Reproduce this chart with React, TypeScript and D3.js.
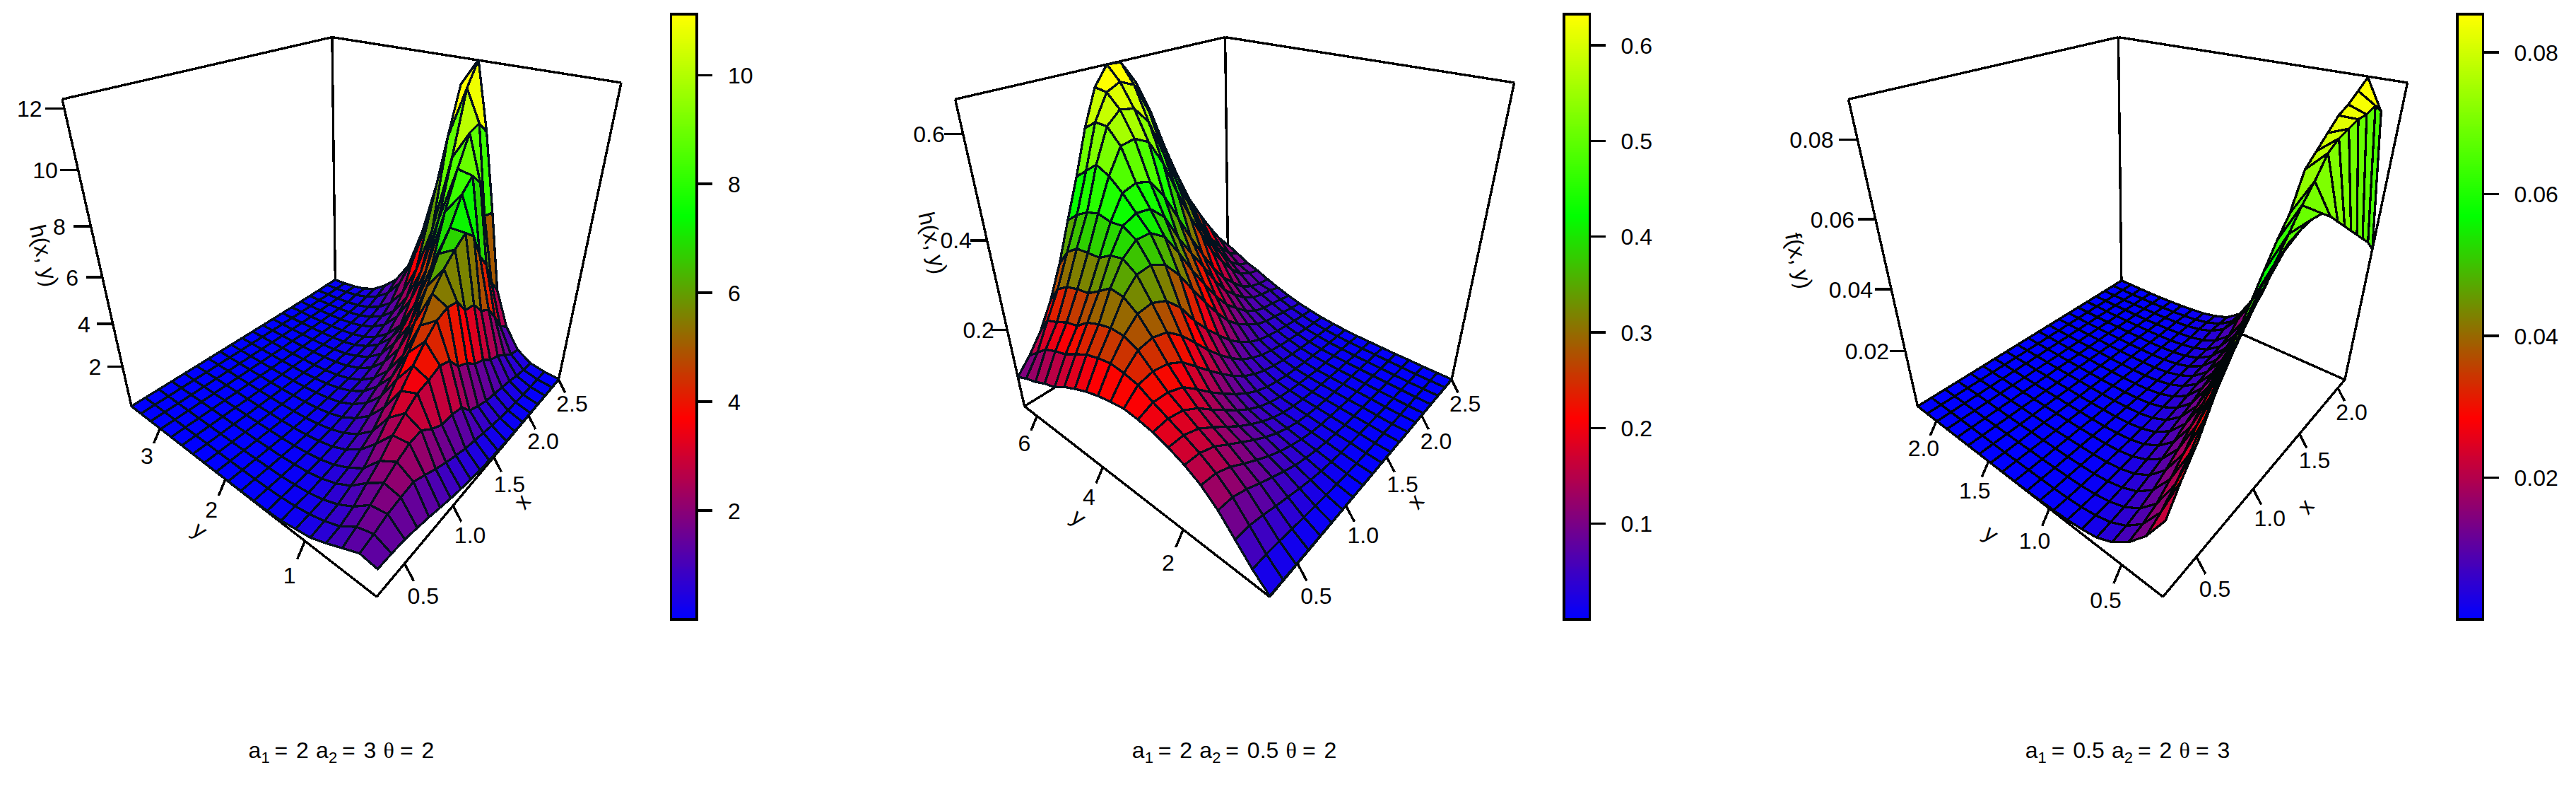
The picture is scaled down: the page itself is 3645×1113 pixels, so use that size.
import React from "react";
import * as d3 from "d3";

const surfaceA: number[][] = [
  [1.27,1.37,1.03,.68,.38,.24,.1,.05,.03,.02,.012,.007,.004,.003,.002,.001,.001,.001,.001,.001],
  [1.25,1.55,1.32,.8,.51,.31,.18,.1,.054,.03,.017,.01,.006,.004,.003,.002,.001,.001,.001,.001],
  [1.2,1.78,1.66,1.08,.67,.4,.23,.135,.07,.04,.022,.012,.007,.004,.003,.002,.001,.001,.001,.001],
  [1.06,1.9,2.05,1.56,.95,.58,.34,.19,.115,.06,.03,.018,.01,.006,.004,.003,.002,.001,.001,.001],
  [.91,2.0,2.4,2.0,1.2,.77,.46,.27,.16,.085,.045,.026,.014,.008,.005,.003,.002,.001,.001,.001],
  [.73,1.73,2.67,2.6,1.8,1.1,.66,.38,.225,.125,.07,.038,.02,.011,.007,.004,.003,.002,.001,.001],
  [.56,1.45,2.73,3.07,2.48,1.46,.9,.54,.325,.186,.1,.054,.03,.016,.009,.005,.003,.002,.001,.001],
  [.42,1.2,2.3,3.46,3.2,2.1,1.3,.79,.45,.26,.145,.08,.043,.024,.013,.008,.005,.003,.002,.001],
  [.3,1.0,2.0,3.6,3.87,2.9,1.77,1.08,.64,.36,.21,.12,.065,.036,.02,.012,.007,.004,.003,.002],
  [.2,.8,2.0,3.8,4.5,3.7,2.27,1.45,.85,.5,.29,.16,.085,.047,.027,.016,.009,.006,.004,.002],
  [.14,.68,1.85,3.6,5,4.5,2.85,1.8,1.1,.63,.37,.2,.11,.06,.034,.02,.012,.007,.004,.003],
  [.09,.55,1.25,2.95,5.2,5.5,4.0,2.45,1.5,.85,.5,.28,.155,.085,.048,.028,.017,.01,.006,.004],
  [.06,.42,1.0,2.7,5.1,6.2,5.2,3.2,2.05,1.18,.68,.4,.22,.12,.068,.04,.024,.014,.009,.006],
  [.04,.32,.8,2.25,4.4,6.7,6.3,4.4,2.65,1.6,.95,.55,.3,.165,.095,.056,.034,.02,.013,.008],
  [.03,.25,.7,2.05,4.3,7.1,7.1,5.25,3.2,1.9,1.15,.67,.38,.215,.125,.075,.045,.027,.017,.011],
  [.025,.2,.6,1.65,3.7,6.7,8.2,7.3,4.5,2.85,1.7,.98,.57,.33,.19,.115,.07,.043,.027,.017],
  [.02,.15,.5,1.45,3.4,5.6,8.7,8.8,6.5,3.9,2.35,1.35,.8,.47,.27,.165,.1,.062,.04,.025],
  [.02,.12,.35,1.1,2.7,4.9,8.2,10,8.9,5.6,3.5,2.05,1.2,.7,.4,.24,.145,.09,.055,.035],
  [.02,.09,.25,.75,1.9,3.8,6.6,10.2,11.4,9.4,5.5,3.4,1.95,1.15,.68,.4,.24,.15,.09,.06],
  [.03,.08,.2,.6,1.5,3.1,6.5,9.7,12.3,11.3,7.4,4.6,2.6,1.6,1,.55,.3,.17,.1,.06],
];

const surfaceBByY: number[][] = [
  [.002,.002,.002,.002,.002,.001,.001,.001,.001,.001,.001,.001,.001,.001,.001,.001,.001,.001,.001,.001],
  [.035,.034,.03,.025,.02,.016,.012,.009,.006,.004,.003,.002,.002,.001,.001,.001,.001,.001,.001,.001],
  [.075,.074,.065,.054,.044,.034,.025,.018,.013,.009,.007,.005,.004,.003,.002,.002,.002,.001,.001,.001],
  [.115,.113,.1,.083,.067,.052,.038,.028,.02,.014,.01,.007,.006,.005,.004,.003,.003,.002,.002,.002],
  [.145,.142,.127,.105,.085,.066,.05,.037,.026,.018,.013,.01,.008,.006,.005,.004,.004,.003,.003,.002],
  [.165,.163,.15,.127,.105,.083,.063,.046,.033,.023,.017,.013,.01,.008,.007,.006,.005,.004,.004,.003],
  [.18,.18,.168,.145,.12,.095,.074,.055,.04,.028,.021,.016,.012,.01,.008,.007,.006,.005,.005,.004],
  [.191,.195,.188,.168,.14,.114,.088,.066,.048,.035,.026,.02,.016,.013,.01,.009,.008,.007,.006,.005],
  [.197,.21,.208,.196,.168,.137,.11,.085,.063,.046,.034,.026,.02,.017,.014,.012,.01,.009,.008,.007],
  [.2,.228,.235,.23,.212,.18,.148,.118,.09,.067,.05,.038,.03,.024,.02,.017,.015,.013,.011,.01],
  [.195,.235,.263,.27,.262,.235,.198,.16,.126,.097,.072,.055,.042,.034,.028,.024,.021,.018,.016,.014],
  [.188,.238,.277,.305,.31,.297,.264,.215,.175,.14,.107,.082,.062,.048,.04,.034,.03,.026,.023,.02],
  [.178,.232,.278,.326,.356,.36,.345,.306,.255,.207,.163,.124,.095,.075,.057,.047,.042,.036,.031,.027],
  [.165,.222,.27,.33,.376,.4,.4,.378,.328,.272,.222,.174,.134,.106,.08,.062,.052,.048,.042,.036],
  [.15,.206,.258,.31,.37,.417,.43,.426,.396,.335,.284,.237,.185,.142,.112,.086,.069,.06,.056,.047],
  [.13,.188,.235,.291,.353,.414,.461,.47,.461,.418,.357,.296,.24,.188,.146,.115,.087,.071,.063,.059],
  [.12,.178,.227,.286,.351,.421,.486,.535,.54,.524,.47,.394,.324,.265,.205,.162,.124,.095,.081,.073],
  [.105,.165,.212,.277,.348,.413,.5,.566,.59,.584,.549,.472,.395,.33,.26,.2,.159,.118,.094,.083],
  [.095,.14,.2,.258,.328,.397,.479,.567,.617,.63,.617,.554,.466,.39,.315,.246,.189,.151,.117,.1],
  [.08,.115,.158,.216,.288,.374,.457,.548,.621,.658,.656,.61,.54,.45,.37,.3,.245,.195,.15,.115],
];
const surfaceB: number[][] = d3.transpose(surfaceBByY);

const surfaceC: number[][] = [
  [.024,.0154,.0094,.0053,.0028,.0017,.001,.0006,.0004,.0002,.0001,.0001,0,0,0,0,0,0,0,0],
  [.031,.018,.0105,.006,.0033,.0018,.001,.0005,.0003,.0002,.0001,.0001,0,0,0,0,0,0,0,0],
  [.037,.022,.0125,.0072,.004,.0022,.0012,.0006,.0004,.0002,.0001,.0001,0,0,0,0,0,0,0,0],
  [.045,.027,.016,.009,.005,.0028,.0015,.0008,.0005,.0003,.0002,.0001,.0001,0,0,0,0,0,0,0],
  [.052,.033,.02,.0115,.0064,.0035,.0019,.001,.0006,.0004,.0002,.0001,.0001,0,0,0,0,0,0,0],
  [.058,.039,.025,.0145,.008,.0045,.0024,.0013,.0007,.0005,.0003,.0002,.0001,.0001,0,0,0,0,0,0],
  [.063,.045,.03,.018,.01,.0056,.003,.0016,.0009,.0005,.0003,.0002,.0001,.0001,0,0,0,0,0,0],
  [.066,.05,.036,.022,.0125,.007,.0037,.002,.0011,.0006,.0004,.0002,.0001,.0001,0,0,0,0,0,0],
  [.0685,.055,.042,.026,.015,.0085,.0045,.0024,.0013,.0008,.0005,.0003,.0002,.0001,.0001,0,0,0,0,0],
  [.0695,.06,.048,.03,.018,.01,.0055,.003,.0016,.0009,.0005,.0003,.0002,.0001,.0001,0,0,0,0,0],
  [.07,.065,.054,.034,.021,.012,.0066,.0036,.002,.0011,.0006,.0004,.0002,.0001,.0001,0,0,0,0,0],
  [.0695,.07,.06,.039,.024,.014,.0078,.0043,.0024,.0013,.0007,.0004,.0002,.0001,.0001,0,0,0,0,0],
  [.067,.074,.065,.044,.027,.016,.009,.005,.0028,.0015,.0008,.0005,.0003,.0002,.0001,.0001,0,0,0,0],
  [.064,.079,.074,.05,.032,.019,.0105,.0058,.0032,.0018,.001,.0006,.0004,.0002,.0001,.0001,0,0,0,0],
  [.061,.081,.077,.054,.036,.022,.012,.0066,.0036,.002,.0012,.0007,.0004,.0003,.0002,.0001,0,0,0,0],
  [.058,.082,.08,.058,.04,.025,.014,.0075,.004,.0023,.0014,.0008,.0005,.0003,.0002,.0001,0,0,0,0],
  [.055,.083,.083,.062,.044,.028,.0165,.0088,.0047,.0027,.0016,.001,.0006,.0004,.0002,.0001,.0001,0,0,0],
  [.052,.083,.0845,.068,.051,.035,.022,.0125,.0066,.0037,.0022,.0013,.0008,.0005,.0003,.0002,.0001,0,0,0],
  [.049,.084,.0867,.071,.054,.038,.0245,.014,.007,.0039,.0024,.0014,.0009,.0005,.0003,.0002,.0001,0,0,0],
  [.045,.0815,.089,.075,.058,.041,.027,.016,.0075,.004,.0025,.0015,.001,.0006,.0004,.0002,.0001,.0001,.0001,.0001],
];

const xTicksA = [0.5, 1, 1.5, 2, 2.5];
const xTicksC = [0.5, 1, 1.5, 2];
const yTicksA = [1, 2, 3];
const yTicksB = [2, 4, 6];
const yTicksC = [0.5, 1, 1.5, 2];
const zTicksA = [2, 4, 6, 8, 10, 12];
const zTicksB = [0.2, 0.4, 0.6];
const zTicksC = [0.02, 0.04, 0.06, 0.08];
const legendTicksA = [2, 4, 6, 8, 10];
const legendTicksB = [0.1, 0.2, 0.3, 0.4, 0.5, 0.6];
const legendTicksC = [0.02, 0.04, 0.06, 0.08];
const rampColors = ["#0000ff", "#ff0000", "#00ff00", "#ffff00"];

const W = 3645, H = 1113;
const FONT = "'Liberation Sans', Arial, sans-serif";
const FS = 32;

// perspective homography fitted to the printed box (unit cube -> page, first panel)
const P = { a: 608.5, b: -276.5, c: -164.4, e: 533, d: -68.5, f: -51.6, k: -645.5, y0: 844, g: 0.4442, h: 0.3792, i: -0.3326 };
const project = (u: number, v: number, t: number): [number, number] => {
  const D = P.g * u + P.h * v + P.i * t + 1;
  return [(P.a * u + P.b * v + P.c * t + P.e) / D, (P.d * u + P.f * v + P.k * t + P.y0) / D];
};

const panels = [
  { dx: 0, z: surfaceA, xd: [0.25, 2.5], yd: [0.25, 3.5], zd: [0, 12.28], max: 11.12, xt: xTicksA, yt: yTicksA, zt: zTicksA, lt: legendTicksA,
    fx: (d: number) => d3.format(".1f")(d), fy: (d: number) => String(d), fz: (d: number) => String(d), fl: (d: number) => String(d),
    zlabel: "h(x, y)", zpos: [61, 362], xpos: [741, 711], ypos: [281, 752], zoff: 1, mesh: "#03111d", title: ["2", "3", "2"] },
  { dx: 1263.6, z: surfaceB, xd: [0.25, 2.5], yd: [0.25, 6.43], zd: [0, 0.658], max: 0.6325, xt: xTicksA, yt: yTicksB, zt: zTicksB, lt: legendTicksB,
    fx: (d: number) => d3.format(".1f")(d), fy: (d: number) => String(d), fz: (d: number) => d3.format(".1f")(d), fl: (d: number) => d3.format(".1f")(d),
    zlabel: "h(x, y)", zpos: [55, 344], xpos: [741.5, 711], ypos: [261, 734], zoff: 1, mesh: "#03111d", title: ["2", "0.5", "2"] },
  { dx: 2527.5, z: surfaceC, xd: [0.25, 2.1], yd: [0.25, 2.2], zd: [0, 0.0892], max: 0.0854, xt: xTicksC, yt: yTicksC, zt: zTicksC, lt: legendTicksC,
    fx: (d: number) => d3.format(".1f")(d), fy: (d: number) => d3.format(".1f")(d), fz: (d: number) => d3.format(".2f")(d), fl: (d: number) => d3.format(".2f")(d),
    zlabel: "f(x, y)", zpos: [16.5, 369], xpos: [737, 718], ypos: [288, 757], zoff: 1.36, mesh: "#010608", title: ["0.5", "2", "3"] },
];

const pathOf = d3.line<[number, number]>();
const BAR = { x0: 949.5, x1: 986, top: 20, bottom: 876 };

function Title({ dx, vals }: { dx: number; vals: string[] }) {
  const widthOf = (s: string) => s.split("").reduce((w, ch) => w + (ch === "." ? 8.9 : 17.8), 0);
  const parts: React.ReactNode[] = [];
  const total = 96 + widthOf(vals[0]) - 17.8 + 96 + widthOf(vals[1]) - 17.8 + 263.8 - 192;
  let x = 483.5 + dx - total / 2;
  const base = 1071.5;
  const txt = (s: string, px: number, py: number, size: number, fam: string = FONT) => (
    <text key={parts.length} x={px} y={py} fontSize={size} fontFamily={fam} fill="#000">{s}</text>
  );
  [1, 2].forEach((n, idx) => {
    parts.push(txt("a", x, base, FS));
    parts.push(txt(String(n), x + 17.8, base + 7, 22));
    parts.push(txt("=", x + 37, base, FS));
    parts.push(txt(vals[idx], x + 67.5, base, FS));
    x += 67.5 + widthOf(vals[idx]) + 10.2;
  });
  parts.push(txt("\u03b8", x, base, FS, "'Liberation Serif', serif"));
  parts.push(txt("=", x + 23.5, base, FS));
  parts.push(txt(vals[2], x + 54, base, FS));
  return <g>{parts}</g>;
}

function Panel({ p }: { p: (typeof panels)[number] }) {
  const us = d3.scaleLinear().domain(p.xd).range([0, 1]);
  const vs = d3.scaleLinear().domain(p.yd).range([0, 1]);
  const ts = d3.scaleLinear().domain(p.zd).range([0, 1]);
  const col = d3.scaleLinear<string>().domain([0, p.max / 3, (2 * p.max) / 3, p.max]).range(rampColors).interpolate(d3.interpolateRgb).clamp(true);
  const ly = d3.scaleLinear().domain([0, p.max]).range([BAR.bottom, BAR.top]);
  const n = p.z.length, m = p.z[0].length;
  const pt = (i: number, j: number) => project(i / (n - 1), j / (m - 1), ts(p.z[i][j]));

  const facets: React.ReactNode[] = [];
  for (let i = n - 2; i >= 0; i--) {
    for (let j = m - 2; j >= 0; j--) {
      const avg = (p.z[i][j] + p.z[i + 1][j] + p.z[i + 1][j + 1] + p.z[i][j + 1]) / 4;
      facets.push(
        <path key={`${i}-${j}`} d={pathOf([pt(i, j), pt(i + 1, j), pt(i + 1, j + 1), pt(i, j + 1)])! + "Z"} fill={col(avg)} stroke={p.mesh} strokeWidth={3.3} strokeLinejoin="round" />
      );
    }
  }

  const F = project(0, 0, 0), R = project(1, 0, 0), L = project(0, 1, 0), B = project(1, 1, 0);
  const RT = project(1, 0, 1), LT = project(0, 1, 1), BT = project(1, 1, 1);
  const box = [[F, R], [F, L], [R, B], [L, B], [L, LT], [LT, BT], [BT, RT], [RT, R], [B, BT]] as [number, number][][];

  const strips = d3.range(0, 300).map((k) => k / 300);
  const seg = (a: [number, number], b: [number, number], key: string) => (
    <line key={key} x1={a[0]} y1={a[1]} x2={b[0]} y2={b[1]} stroke="#000" strokeWidth={3.4} />
  );
  const label = (s: string, q: [number, number], key: string) => (
    <text key={key} x={q[0]} y={q[1]} dy="0.36em" textAnchor="middle" fontFamily={FONT} fontSize={FS} fill="#000">{s}</text>
  );

  return (
    <g>
      <g transform={`translate(${p.dx},0)`} shapeRendering="crispEdges">
        {box.map((e, k) => seg(e[0], e[1], `b${k}`))}
        {facets}
        {p.xt.map((d) => seg(project(us(d), 0, 0), project(us(d), -0.03, -0.04), `xt${d}`))}
        {p.yt.map((d) => seg(project(0, vs(d), 0), project(-0.03, vs(d), -0.04), `yt${d}`))}
        {p.zt.map((d) => seg(project(0, 1, ts(d)), project(-0.03, 1.036, ts(d)), `zt${d}`))}
        {/* legend */}
        {strips.map((k) => (
          <rect key={k} x={BAR.x0} width={BAR.x1 - BAR.x0} y={ly(k * p.max + p.max / 300)} height={ly(k * p.max) - ly(k * p.max + p.max / 300) + 0.6} fill={col(k * p.max + p.max / 600)} />
        ))}
        <rect x={BAR.x0} y={BAR.top} width={BAR.x1 - BAR.x0} height={BAR.bottom - BAR.top} fill="none" stroke="#000" strokeWidth={3.4} />
        {p.lt.map((d) => seg([BAR.x1, ly(d)], [BAR.x1 + 22, ly(d)], `lt${d}`))}
      </g>
      <g transform={`translate(${p.dx},0)`}>
        {p.xt.map((d) => label(p.fx(d), project(us(d), -0.06, -0.07), `xl${d}`))}
        {p.yt.map((d) => label(p.fy(d), project(-0.06, vs(d), -0.07), `yl${d}`))}
        {p.zt.map((d) => label(p.fz(d), project(-0.055 * p.zoff, 1 + 0.066 * p.zoff, ts(d)), `zl${d}`))}
        {p.lt.map((d) => (
          <text key={`ll${d}`} x={BAR.x1 + 44} y={ly(d)} dy="0.36em" fontFamily={FONT} fontSize={FS} fill="#000">{p.fl(d)}</text>
        ))}
        <text transform={`translate(${p.xpos[0]},${p.xpos[1]}) rotate(-52)`} textAnchor="middle" dy="0.25em" fontFamily={FONT} fontSize={FS} fill="#000">x</text>
        <text transform={`translate(${p.ypos[0]},${p.ypos[1]}) rotate(38)`} textAnchor="middle" dy="0.25em" fontFamily={FONT} fontSize={FS} fill="#000">y</text>
        <text transform={`translate(${p.zpos[0]},${p.zpos[1]}) rotate(77)`} textAnchor="middle" dy="0.3em" fontFamily={FONT} fontSize={FS} fill="#000">{p.zlabel}</text>
      </g>
      <Title dx={p.dx} vals={p.title} />
    </g>
  );
}

export default function App() {
  return (
    <svg width={W} height={H} viewBox={`0 0 ${W} ${H}`} style={{ position: "fixed", left: 0, top: 0, background: "#fff" }}>
      <rect width={W} height={H} fill="#fff" />
      {panels.map((p, k) => <Panel key={k} p={p} />)}
    </svg>
  );
}
